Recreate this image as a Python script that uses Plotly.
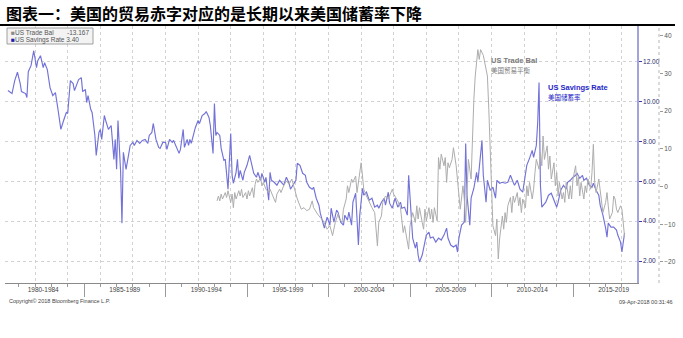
import plotly.graph_objects as go

# US personal savings rate (%), monthly readings
sav_dates = [
    "1980-05", "1980-08", "1980-10", "1980-12", "1981-02", "1981-03", "1981-06", "1981-07", "1981-08", "1981-10",
    "1981-12", "1982-01", "1982-02", "1982-03", "1982-05", "1982-07", "1982-08", "1982-10", "1982-12", "1983-02",
    "1983-04", "1983-06", "1983-08", "1983-10", "1983-12", "1984-01", "1984-03", "1984-05", "1984-06", "1984-09",
    "1984-11", "1984-12", "1985-02", "1985-03", "1985-04", "1985-06", "1985-07", "1985-09", "1985-10", "1985-12",
    "1986-01", "1986-02", "1986-04", "1986-05", "1986-07", "1986-09", "1986-11", "1986-12", "1987-01", "1987-02",
    "1987-03", "1987-04", "1987-05", "1987-06", "1987-08", "1987-10", "1987-11", "1988-01", "1988-02", "1988-04",
    "1988-06", "1988-08", "1988-10", "1988-12", "1989-01", "1989-03", "1989-04", "1989-06", "1989-08", "1989-09",
    "1989-11", "1990-01", "1990-02", "1990-04", "1990-06", "1990-07", "1990-09", "1990-11", "1990-12", "1991-02",
    "1991-03", "1991-05", "1991-06", "1991-07", "1991-08", "1991-10", "1991-11", "1992-01", "1992-02", "1992-04",
    "1992-06", "1992-07", "1992-09", "1992-10", "1992-12", "1993-01", "1993-02", "1993-03", "1993-05", "1993-06",
    "1993-08", "1993-09", "1993-10", "1993-11", "1994-01", "1994-02", "1994-03", "1994-05", "1994-06", "1994-07",
    "1994-08", "1994-10", "1994-11", "1995-01", "1995-03", "1995-05", "1995-06", "1995-08", "1995-09", "1995-11",
    "1995-12", "1996-02", "1996-03", "1996-05", "1996-06", "1996-07", "1996-09", "1996-11", "1997-01", "1997-03",
    "1997-04", "1997-06", "1997-08", "1997-09", "1997-11", "1998-01", "1998-02", "1998-04", "1998-06", "1998-08",
    "1998-09", "1998-11", "1999-01", "1999-02", "1999-04", "1999-06", "1999-07", "1999-09", "1999-10", "1999-12",
    "2000-02", "2000-03", "2000-05", "2000-07", "2000-08", "2000-10", "2000-12", "2001-01", "2001-03", "2001-04",
    "2001-06", "2001-07", "2001-09", "2001-11", "2001-12", "2002-02", "2002-03", "2002-05", "2002-07", "2002-09",
    "2002-11", "2003-01", "2003-02", "2003-04", "2003-06", "2003-07", "2003-09", "2003-10", "2003-12", "2004-02",
    "2004-04", "2004-06", "2004-07", "2004-09", "2004-11", "2004-12", "2005-02", "2005-03", "2005-05", "2005-06",
    "2005-07", "2005-08", "2005-10", "2005-11", "2006-01", "2006-03", "2006-04", "2006-06", "2006-08", "2006-10",
    "2006-12", "2007-02", "2007-04", "2007-05", "2007-07", "2007-09", "2007-11", "2007-12", "2008-01", "2008-03",
    "2008-05", "2008-06", "2008-07", "2008-09", "2008-10", "2008-12", "2009-02", "2009-03", "2009-04", "2009-06",
    "2009-07", "2009-09", "2009-10", "2009-12", "2010-02", "2010-04", "2010-05", "2010-07", "2010-09", "2010-11",
    "2011-01", "2011-03", "2011-05", "2011-06", "2011-08", "2011-10", "2011-12", "2012-02", "2012-03", "2012-05",
    "2012-07", "2012-08", "2012-10", "2012-11", "2012-12", "2013-01", "2013-02", "2013-05", "2013-07", "2013-09",
    "2013-11", "2014-01", "2014-02", "2014-04", "2014-06", "2014-08", "2014-09", "2014-11", "2015-01", "2015-03",
    "2015-04", "2015-06", "2015-08", "2015-09", "2015-11", "2016-01", "2016-03", "2016-04", "2016-06", "2016-08",
    "2016-09", "2016-11", "2017-01", "2017-02", "2017-03", "2017-05", "2017-07", "2017-09", "2017-10", "2017-12",
    "2018-01", "2018-02", "2018-03",
]
sav_vals = [
    10.55, 10.4, 11.05, 11.47, 10.9, 10.5, 10.4, 10.2, 11.5, 11.8,
    12.55, 12.2, 11.7, 12.05, 12.3, 11.7, 11.95, 11.6, 10.7, 10.3,
    10.45, 9.55, 8.6, 9.05, 9.45, 9.4, 11.05, 10.9, 10.55, 11.1,
    11.2, 10.5, 10.6, 9.95, 10.3, 9.6, 9.45, 8.3, 7.3, 8.45,
    8.6, 8.1, 9.3, 9.05, 8.6, 8.8, 7.1, 8.1, 6.6, 9.05,
    7.8, 6.45, 3.9, 7.45, 6.6, 7.45, 7.8, 7.95, 7.8, 8.05,
    7.9, 8.05, 8.1, 7.9, 8.3, 8.45, 8.9, 8.1, 7.7, 7.65,
    7.95, 7.95, 7.6, 8.1, 7.95, 8.05, 7.7, 7.4, 7.6, 8.6,
    7.7, 8.1, 7.8, 8.1, 7.9, 8.45, 8.7, 9.05, 8.9, 9.3,
    9.4, 9.5, 9.2, 8.8, 7.4, 9.9, 8.3, 8.45, 8.3, 7.65,
    7.05, 7.1, 6.45, 5.6, 8.4, 6.3, 5.9, 6.45, 7.1, 6.15,
    6.55, 6.05, 6.45, 6.8, 7.3, 6.65, 6.4, 6.2, 6.45, 6.05,
    6.4, 5.95, 6.2, 5.05, 6.45, 6.05, 5.95, 5.8, 6.05, 5.9,
    5.8, 6.2, 5.9, 5.6, 5.8, 6.05, 6.9, 6.8, 6.4, 6.3,
    5.95, 5.7, 5.6, 5.7, 5.15, 4.8, 4.4, 3.95, 3.65, 4.2,
    3.8, 4.65, 3.95, 4.55, 4.45, 3.95, 3.8, 4.3, 4.05, 4.45,
    3.8, 4.95, 5.4, 2.8, 4.3, 5.65, 5.3, 5.45, 5.05, 5.15,
    4.7, 4.8, 4.65, 4.95, 5.15, 4.8, 5.45, 4.9, 4.65, 5.15,
    4.7, 4.95, 4.65, 4.7, 4.3, 6.3, 3.8, 3.15, 2.65, 2.95,
    2.3, 1.95, 2.3, 2.7, 3.3, 3.45, 3.15, 3.2, 2.95, 3.15,
    3.05, 3.3, 3.65, 3.15, 2.8, 2.7, 2.8, 2.45, 3.15, 3.8,
    3.95, 7.9, 5.3, 3.8, 5.15, 5.65, 6.45, 5.95, 6.7, 8.05,
    6.3, 4.95, 6.05, 5.55, 5.7, 5.15, 6.05, 5.9, 5.95, 5.9,
    5.95, 6.3, 5.95, 5.8, 6.05, 5.6, 5.45, 6.45, 6.8, 7.15,
    7.55, 7.2, 7.8, 8.95, 10.95, 5.8, 4.7, 4.95, 5.3, 5.4,
    5.05, 4.7, 4.95, 5.55, 5.8, 5.6, 5.95, 6.05, 6.2, 6.3,
    6.4, 6.15, 6.3, 6.05, 6.15, 5.8, 5.7, 5.9, 5.55, 5.3,
    4.8, 4.3, 3.65, 3.2, 3.9, 3.7, 3.7, 3.55, 3.3, 2.95,
    2.45, 2.95, 3.40,
]

# US trade balance, monthly readings
trade_dates = [
    "1993-03", "1993-04", "1993-05", "1993-06", "1993-07", "1993-09", "1993-10", "1993-11", "1994-01", "1994-02",
    "1994-03", "1994-04", "1994-05", "1994-07", "1994-08", "1994-09", "1994-10", "1994-12", "1995-01", "1995-02",
    "1995-03", "1995-05", "1995-06", "1995-07", "1995-08", "1995-09", "1995-11", "1995-12", "1996-01", "1996-03",
    "1996-05", "1996-06", "1996-08", "1996-10", "1996-11", "1997-01", "1997-02", "1997-04", "1997-06", "1997-08",
    "1997-10", "1997-12", "1998-02", "1998-04", "1998-05", "1998-07", "1998-09", "1998-11", "1999-01", "1999-02",
    "1999-04", "1999-05", "1999-07", "1999-09", "1999-12", "2000-02", "2000-04", "2000-06", "2000-08", "2000-09",
    "2000-11", "2000-12", "2001-02", "2001-03", "2001-04", "2001-06", "2001-07", "2001-09", "2001-10", "2001-12",
    "2002-01", "2002-02", "2002-03", "2002-05", "2002-07", "2002-09", "2002-11", "2002-12", "2003-01", "2003-02",
    "2003-04", "2003-05", "2003-07", "2003-09", "2003-10", "2003-12", "2004-01", "2004-03", "2004-04", "2004-06",
    "2004-07", "2004-08", "2004-09", "2004-11", "2004-12", "2005-01", "2005-02", "2005-03", "2005-05", "2005-06",
    "2005-07", "2005-08", "2005-10", "2005-11", "2005-12", "2006-01", "2006-03", "2006-04", "2006-05", "2006-06",
    "2006-07", "2006-09", "2006-10", "2006-11", "2006-12", "2007-02", "2007-03", "2007-04", "2007-05", "2007-06",
    "2007-08", "2007-09", "2007-11", "2007-12", "2008-01", "2008-02", "2008-04", "2008-05", "2008-06", "2008-07",
    "2008-08", "2008-10", "2008-11", "2008-12", "2009-01", "2009-03", "2009-04", "2009-05", "2009-07", "2009-08",
    "2009-10", "2009-11", "2009-12", "2010-01", "2010-02", "2010-04", "2010-05", "2010-06", "2010-07", "2010-09",
    "2010-10", "2010-11", "2010-12", "2011-01", "2011-03", "2011-04", "2011-05", "2011-06", "2011-08", "2011-09",
    "2011-10", "2011-11", "2011-12", "2012-02", "2012-03", "2012-04", "2012-05", "2012-07", "2012-08", "2012-09",
    "2012-10", "2012-12", "2013-01", "2013-02", "2013-03", "2013-04", "2013-06", "2013-07", "2013-08", "2013-09",
    "2013-11", "2013-12", "2014-01", "2014-02", "2014-03", "2014-05", "2014-06", "2014-07", "2014-08", "2014-10",
    "2014-11", "2014-12", "2015-01", "2015-03", "2015-04", "2015-05", "2015-06", "2015-07", "2015-09", "2015-10",
    "2015-11", "2015-12", "2016-02", "2016-03", "2016-04", "2016-05", "2016-06", "2016-08", "2016-09", "2016-10",
    "2016-11", "2017-01", "2017-02", "2017-03", "2017-04", "2017-06", "2017-07", "2017-08", "2017-09", "2017-10",
    "2017-12", "2018-01", "2018-02", "2018-03",
]
trade_vals = [
    -3.8, -2.5, -3.8, -2.0, -3.3, -1.6, -2.9, -1.1, -4.2, -2.0,
    -5.6, -1.6, -3.3, -1.1, -2.5, -0.7, -2.9, -1.6, -3.3, -1.1,
    -2.5, -0.3, -2.9, 0.6, 2.0, 1.1, 2.4, 0.2, 1.1, -0.7,
    -1.6, -0.7, -2.5, -4.2, -2.0, -0.7, -1.6, 0.2, 1.5, 0.6,
    2.0, -0.7, -3.3, -5.1, -6.0, -5.6, -6.4, -6.0, -3.8, -5.6,
    -6.9, -7.3, -8.2, -9.0, -11.3, -10.4, -13.0, -9.5, -7.3, -8.6,
    -9.5, -6.0, -3.3, 0.2, -1.6, 2.0, 1.1, 2.8, -1.6, 3.7,
    6.3, 2.8, -0.7, -2.5, -4.2, -5.6, -6.9, -10.4, -15.7, -9.5,
    -7.8, -4.2, -2.5, -3.3, -2.5, -0.7, -2.0, -3.3, -3.8, -5.6,
    -8.2, -12.2, -10.4, -13.9, -16.6, -10.4, -8.6, -6.9, -9.5, -5.1,
    -8.6, -5.6, -9.5, -11.3, -6.0, -9.1, -5.6, -8.6, -6.0, -9.5,
    -5.6, -9.1, 7.7, 4.6, 8.6, 5.5, 7.7, 1.1, 6.3, 5.0,
    7.2, 10.3, 5.5, 1.1, -3.3, -6.0, 0.2, -3.3, -9.5, -1.6,
    7.2, 2.0, 14.3, 23.1, 29.3, 36.3, 33.7, 36.3, 34.8, 32.8,
    29.3, 20.5, 10.8, 2.8, -10.4, -13.0, -8.6, -19.2, -13.9, -7.8,
    -11.3, -6.9, -9.5, -5.1, -2.9, -6.9, -2.5, -4.2, -1.6, -5.1,
    -2.9, -6.9, -3.3, -5.6, 0.2, -2.5, 1.1, -3.3, -0.7, 3.7,
    7.2, 4.6, 9.0, 5.5, 13.4, 7.2, 10.8, 4.6, 8.1, 2.0,
    6.3, 0.2, 3.7, -2.5, 1.1, -3.3, -1.6, -4.2, 1.1, -3.3,
    0.2, -3.3, 2.0, 5.5, 0.2, 2.8, -2.5, 1.1, -3.3, 0.2,
    -1.6, 2.0, -0.7, 3.7, 11.2, 1.1, -1.6, 2.0, -0.7, -3.3,
    -6.9, -4.2, -1.6, -5.1, -8.6, -6.9, -2.5, -3.3, -6.0, -6.9,
    -5.1, -6.0, -10.4, -13.167,
]

# x axis: five-year bands
band_labels = ["1980-1984", "1985-1989", "1990-1994", "1995-1999",
               "2000-2004", "2005-2009", "2010-2014", "2015-2019"]
band_centers = ["1982-07-01", "1987-07-01", "1992-07-01", "1997-07-01",
                "2002-07-01", "2007-07-01", "2012-07-01", "2017-07-01"]
band_edges = ["1985-01-01", "1990-01-01", "1995-01-01", "2000-01-01",
              "2005-01-01", "2010-01-01", "2015-01-01"]
sav_ticks = [2, 4, 6, 8, 10, 12]
trade_ticks = [-20, -10, 0, 10, 20, 30, 40]

W, H = 683, 338
def px(x):
    return x / W
def py(y):
    return 1 - y / H

SAV_COLOR = "#7272d8"
TRADE_COLOR = "#adadad"
GRID = "#d2d2d2"
SMALL = "Liberation Sans"
CJK = "Noto Sans CJK SC"
MIXED = "Liberation Sans, Noto Sans CJK SC"

x_range = ["1980-02-26", "2018-12-05"]
y_dom = [py(283), py(26)]
x_dom = [px(5), px(637)]

fig = go.Figure()
fig.add_trace(go.Scatter(
    x=trade_dates, y=trade_vals, mode="lines", name="US Trade Bal",
    line=dict(color=TRADE_COLOR, width=1), xaxis="x2", yaxis="y2",
))
fig.add_trace(go.Scatter(
    x=sav_dates, y=sav_vals, mode="lines", name="US Savings Rate",
    line=dict(color=SAV_COLOR, width=1.15), xaxis="x", yaxis="y",
))

fig.update_layout(
    width=W, height=H, autosize=False,
    margin=dict(l=0, r=0, t=0, b=0),
    paper_bgcolor="white", plot_bgcolor="white",
    showlegend=False,
    xaxis=dict(
        domain=x_dom, range=x_range, type="date", anchor="y",
        tickmode="array", tickvals=band_centers, ticktext=band_labels,
        ticks="", showgrid=False, zeroline=False,
        showline=True, linecolor="#8a8a8a", linewidth=1,
        tickfont=dict(family=SMALL, size=6.5, color="#444"),
        minor=dict(tickmode="linear", tick0="1980-01-01", dtick="M24",
                   showgrid=True, gridcolor=GRID, griddash="dot", gridwidth=1, ticks=""),
        fixedrange=True,
    ),
    xaxis2=dict(
        overlaying="x", range=x_range, type="date", anchor="y",
        tickmode="array", tickvals=band_edges, showticklabels=False,
        ticks="outside", ticklen=13, tickcolor="#9a9a9a", tickwidth=1,
        showgrid=False, zeroline=False, showline=False,
        minor=dict(tickmode="linear", tick0="1980-01-01", dtick="M12",
                   ticks="outside", ticklen=3, tickcolor="#9a9a9a", showgrid=False),
        fixedrange=True,
    ),
    yaxis=dict(
        domain=y_dom, range=[0.896, 13.79], anchor="x", side="right",
        tickmode="array", tickvals=sav_ticks, tickformat=".2f",
        ticks="outside", ticklen=3, tickcolor="#3b3bb0", tickwidth=1,
        showline=True, linecolor="#a4a4dc", linewidth=1.5,
        showgrid=True, gridcolor=GRID, griddash="dot", gridwidth=1,
        zeroline=False,
        tickfont=dict(family=SMALL, size=6.5, color="#2a2a6a"),
        fixedrange=True,
    ),
    yaxis2=dict(
        overlaying="y", range=[-25.57, 42.57], anchor="free", position=px(659),
        side="right", tickmode="array", tickvals=trade_ticks,
        ticks="outside", ticklen=3, tickcolor="#999", tickwidth=1,
        showline=False, showgrid=False, zeroline=False,
        tickfont=dict(family=SMALL, size=6.5, color="#555"),
        fixedrange=True,
    ),
)

shapes = [
    # rule under the title
    dict(type="line", xref="paper", yref="paper", x0=0, x1=px(675),
         y0=py(25), y1=py(25), line=dict(color="black", width=2)),
    # outer (trade) axis line
    dict(type="line", xref="paper", yref="paper", x0=px(659), x1=px(659),
         y0=y_dom[0], y1=y_dom[1], line=dict(color="#b5b5b5", width=1, dash="dot")),
    # legend box
    dict(type="rect", xref="paper", yref="paper", x0=px(7), x1=px(93),
         y0=py(44), y1=py(28), line=dict(color="#a0a0a0", width=1),
         fillcolor="#f3f3f3", layer="above"),
]
fig.update_layout(shapes=shapes)

trade_last = f"{trade_vals[-1]:.3f}"
sav_last = f"{sav_vals[-1]:.2f}"

ann = [
    dict(text="<b>图表一：美国的贸易赤字对应的是长期以来美国储蓄率下降</b>",
         x=px(4), y=py(13), xanchor="left", yanchor="middle",
         font=dict(family=CJK, size=16, color="black")),
    dict(text="<span style='color:#8a8a8a'>■</span>US Trade Bal",
         x=px(9), y=py(32), xanchor="left", yanchor="middle",
         font=dict(family=SMALL, size=6.5, color="#555")),
    dict(text=trade_last, x=px(91), y=py(32), xanchor="right", yanchor="middle",
         font=dict(family=SMALL, size=6.5, color="#555")),
    dict(text=f"<span style='color:#1c1cb0'>■</span>US Savings Rate {sav_last}",
         x=px(9), y=py(40), xanchor="left", yanchor="middle",
         font=dict(family=SMALL, size=6.5, color="#555")),
    dict(text="<b>US Trade Bal</b><br><span style='font-size:6.5px'>美国贸易平衡</span>",
         x=px(489), y=py(65), xanchor="left", yanchor="middle", align="left",
         font=dict(family=MIXED, size=7.5, color="#7a7a7a")),
    dict(text="<b>US Savings Rate</b><br><span style='font-size:6.5px'>美国储蓄率</span>",
         x=px(546), y=py(93), xanchor="left", yanchor="middle", align="left",
         font=dict(family=MIXED, size=7.5, color="#2626c8")),
    dict(text="Copyright© 2018 Bloomberg Finance L.P.", x=px(7), y=py(301),
         xanchor="left", yanchor="middle", font=dict(family=SMALL, size=5.5, color="#444")),
    dict(text="09-Apr-2018 00:31:46", x=px(675), y=py(302),
         xanchor="right", yanchor="middle", font=dict(family=SMALL, size=5.5, color="#444")),
]
for a in ann:
    a.update(xref="paper", yref="paper", showarrow=False)
fig.update_layout(annotations=ann)

fig.write_html("out.html")
